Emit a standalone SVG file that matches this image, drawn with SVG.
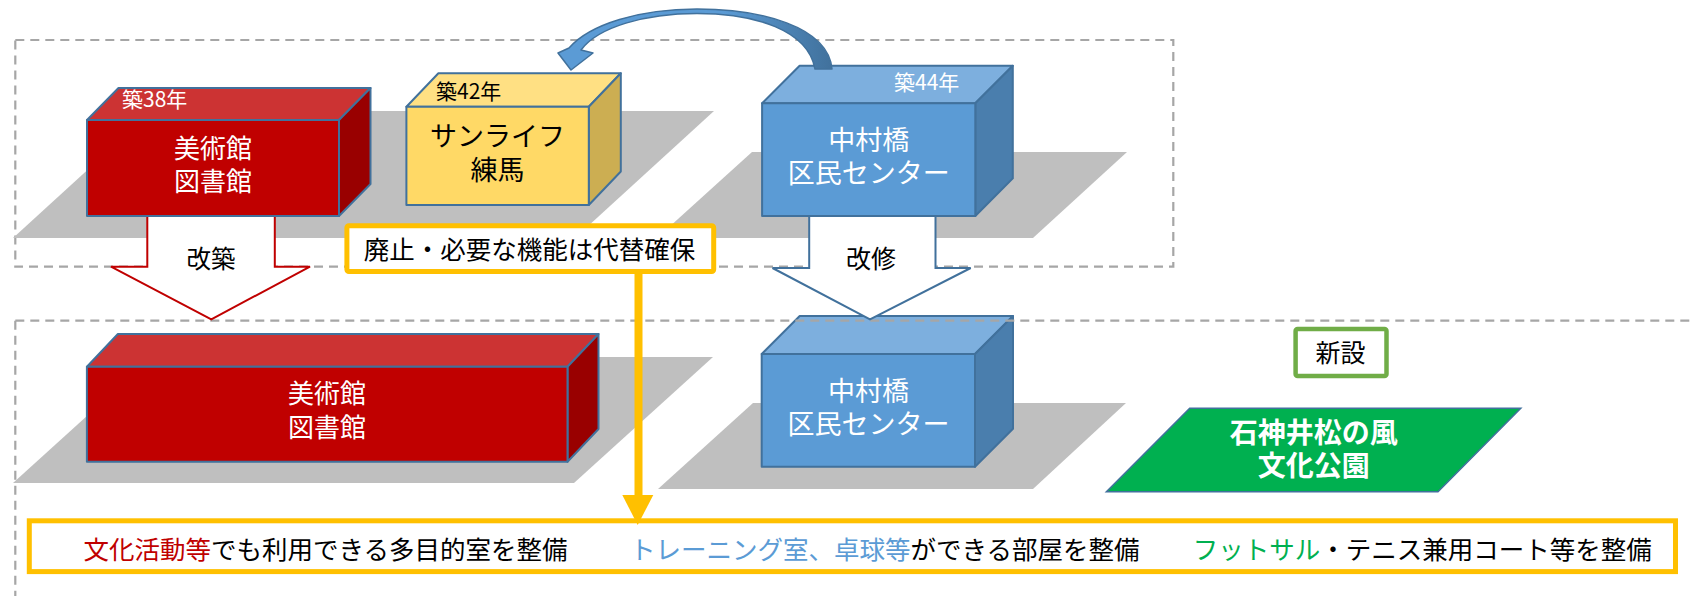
<svg xmlns="http://www.w3.org/2000/svg" width="1695" height="596" viewBox="0 0 1695 596">
<defs>
<style>
text{font-family:"Noto Sans CJK JP","Noto Sans",sans-serif;}
.dash{fill:none;stroke:#A6A6A6;stroke-width:2.2;stroke-dasharray:9 6;}
.floor{fill:#BFBFBF;}
.edge{stroke:#41719C;stroke-width:2;stroke-linejoin:round;}
.rf{fill:#C00000;}.rt{fill:#CC3333;}.rs{fill:#990000;}
.yf{fill:#FFD966;}.yt{fill:#FFE083;}.ys{fill:#CCAE52;}
.bf{fill:#5B9BD5;}.bt{fill:#7DAFDE;}.bs{fill:#4A7EAD;}
.w{fill:#FFFFFF;}.k{fill:#000000;}
.big{font-size:26px;}
.age{font-size:21px;}
.lbl{font-size:25.5px;}
.gold{fill:#FFFFFF;stroke:#FFC000;stroke-width:5;}
</style>
<linearGradient id="curveGrad" x1="0" y1="0" x2="1" y2="0">
<stop offset="0" stop-color="#5B9BD5"/>
<stop offset="0.6" stop-color="#5B9BD5"/>
<stop offset="1" stop-color="#41719C"/>
</linearGradient>
</defs>
<rect width="1695" height="596" fill="#FFFFFF"/>

<g id="frames">
<rect class="dash" x="15.3" y="40" width="1158" height="226.7"/>
</g>

<g id="floors">
<polygon class="floor" points="152,111 714,111 575,238 13,238"/>
<polygon class="floor" points="752,152 1127,152 1033,238 657,238"/>
<polygon class="floor" points="152,357 713,357 574,483 13,483"/>
<polygon class="floor" points="753,403 1126,403 1033,489 658,489"/>
</g>

<g id="node-bijutsu-old">
<polygon class="rt edge" points="87,120 118.5,88 370.5,88 339,120"/>
<polygon class="rs edge" points="339,120 370.5,88 370.5,184 339,216"/>
<rect class="rf edge" x="87" y="120" width="252" height="96"/>
<text class="age w" x="122" y="107">築38年</text>
<text class="big w" text-anchor="middle"><tspan x="213" y="158">美術館</tspan><tspan x="213" y="191">図書館</tspan></text>
</g>

<g id="node-sunlife">
<polygon class="yt edge" points="406.4,106.7 438.4,73.2 620.8,73.2 588.8,106.7"/>
<polygon class="ys edge" points="588.8,106.7 620.8,73.2 620.8,171.5 588.8,205"/>
<rect class="yf edge" x="406.4" y="106.7" width="182.4" height="98.3"/>
<text class="age k" x="436" y="99">築42年</text>
<text class="k" font-size="27" text-anchor="middle"><tspan x="497.5" y="146">サンライフ</tspan><tspan x="497.5" y="180">練馬</tspan></text>
</g>

<g id="node-nakamura-old">
<polygon class="bt edge" points="762.1,103.3 799.6,65.7 1012.8,65.7 975.3,103.3"/>
<polygon class="bs edge" points="975.3,103.3 1012.8,65.7 1012.8,178.4 975.3,216"/>
<rect class="bf edge" x="762.1" y="103.3" width="213.2" height="112.7"/>
<text class="age w" x="894" y="90">築44年</text>
<text class="w" font-size="27" text-anchor="middle"><tspan x="868.7" y="150">中村橋</tspan><tspan x="868.7" y="183">区民センター</tspan></text>
</g>

<g id="node-bijutsu-new">
<polygon class="rt edge" points="86.9,366.7 117.9,334 598.5,334 567.5,366.7"/>
<polygon class="rs edge" points="567.5,366.7 598.5,334 598.5,429 567.5,461.7"/>
<rect class="rf edge" x="86.9" y="366.7" width="480.6" height="95"/>
<text class="big w" text-anchor="middle"><tspan x="327" y="403">美術館</tspan><tspan x="327" y="437">図書館</tspan></text>
</g>

<g id="node-nakamura-new">
<polygon class="bt edge" points="761.7,354 799.7,316 1013,316 975,354"/>
<polygon class="bs edge" points="975,354 1013,316 1013,428.7 975,466.7"/>
<rect class="bf edge" x="761.7" y="354" width="213.3" height="112.7"/>
<text class="w" font-size="27" text-anchor="middle"><tspan x="868.4" y="401">中村橋</tspan><tspan x="868.4" y="434">区民センター</tspan></text>
</g>

<g id="lower-frame">
<path class="dash" d="M15.3,320.7 H1695 M15.3,320.7 V596"/>
</g>

<g id="node-park">
<polygon fill="#00B050" stroke="#41719C" stroke-width="1.5" points="1189.7,408.3 1520.8,408.3 1438,491.7 1106.4,491.7"/>
<text class="w" font-size="28" font-weight="bold" text-anchor="middle"><tspan x="1313.8" y="443">石神井松の風</tspan><tspan x="1313.8" y="476">文化公園</tspan></text>
</g>

<g id="node-shinsetsu">
<rect x="1295.6" y="328.9" width="90.9" height="47.2" rx="2" fill="#FFFFFF" stroke="#70AD47" stroke-width="4.5"/>
<text class="k" font-size="25" x="1340.5" y="362" text-anchor="middle">新設</text>
</g>

<g id="connectors">
<path fill="url(#curveGrad)" stroke="#41719C" stroke-width="1.5" stroke-linejoin="round" d="M832,69 C828,26 760,9 697,9 C640,9 590,24 569,48 L558,53 L571,70 L593,53 L581,50 C598,27 645,13.5 697,13.5 C755,13.5 808,30 815,69 Z"/>
<path fill="#FFFFFF" stroke="#C00000" stroke-width="2" stroke-linejoin="miter" d="M147.3,217 V266.7 H111 L211.3,319.3 L310,266.7 H274.8 V217"/>
<path fill="#FFFFFF" stroke="#41719C" stroke-width="2" stroke-linejoin="miter" d="M809.2,217 V268 H772.5 L870,319.3 L970.7,268 H935.5 V217"/>
<text class="k" font-size="24.5" x="211" y="268" text-anchor="middle">改築</text>
<text class="k" font-size="25" x="871" y="268" text-anchor="middle">改修</text>
<line x1="638.5" y1="272" x2="638.5" y2="497" stroke="#FFC000" stroke-width="8"/>
<polygon fill="#FFC000" points="622.3,495 653.3,495 637.7,525"/>
</g>

<g id="node-haishi">
<rect class="gold" x="346.9" y="225.8" width="366.8" height="45.7" rx="2"/>
<text class="lbl k" x="529.5" y="259" text-anchor="middle">廃止・必要な機能は代替確保</text>
</g>

<g id="node-bottom">
<rect x="29.3" y="520.8" width="1646.2" height="50.8" fill="none" stroke="#FFC000" stroke-width="5"/>
<text class="lbl" x="83.4" y="559"><tspan fill="#C00000">文化活動等</tspan><tspan fill="#000000">でも利用できる多目的室を整備</tspan></text>
<text class="lbl" x="630" y="559"><tspan fill="#5B9BD5">トレーニング室、卓球等</tspan><tspan fill="#000000">ができる部屋を整備</tspan></text>
<text class="lbl" x="1192.8" y="559"><tspan fill="#00B050">フットサル</tspan><tspan fill="#000000">・テニス兼用コート等を整備</tspan></text>
</g>
</svg>
